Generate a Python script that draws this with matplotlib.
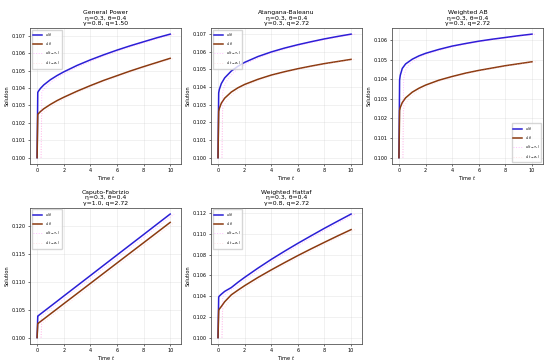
import numpy as np
import matplotlib
matplotlib.use("Agg")
import matplotlib.pyplot as plt

# time samples
t = [0, 0.05, 0.1, 0.25, 0.5, 1, 1.5, 2, 3, 4, 5, 6, 7, 8, 9, 10]

titles = ["General Power", "Atangana-Baleanu", "Weighted AB", "Caputo-Fabrizio", "Weighted Hattaf"]
gammas = [0.8, 0.3, 0.3, 1.0, 0.8]
qs = [1.50, 2.72, 2.72, 2.72, 2.72]
eta = 0.3
theta = 0.4

u_gp = [0.1000, 0.10375, 0.10382, 0.10398, 0.10418, 0.10448, 0.10472, 0.10493, 0.10530, 0.10562, 0.10591, 0.10618, 0.10643, 0.10666, 0.10689, 0.10710]
v_gp = [0.1000, 0.10248, 0.10253, 0.10265, 0.10281, 0.10306, 0.10328, 0.10347, 0.10382, 0.10414, 0.10444, 0.10471, 0.10498, 0.10523, 0.10547, 0.10571]

u_ab = [0.1000, 0.10367, 0.10387, 0.10420, 0.10452, 0.10491, 0.10518, 0.10540, 0.10573, 0.10599, 0.10621, 0.10640, 0.10657, 0.10673, 0.10687, 0.10700]
v_ab = [0.1000, 0.10262, 0.10279, 0.10309, 0.10337, 0.10372, 0.10396, 0.10415, 0.10444, 0.10468, 0.10487, 0.10504, 0.10519, 0.10533, 0.10545, 0.10557]

u_wab = [0.1000, 0.10396, 0.10420, 0.10455, 0.10478, 0.10502, 0.10519, 0.10532, 0.10552, 0.10569, 0.10582, 0.10594, 0.10604, 0.10613, 0.10622, 0.10630]
v_wab = [0.1000, 0.10241, 0.10256, 0.10281, 0.10305, 0.10334, 0.10354, 0.10370, 0.10395, 0.10414, 0.10431, 0.10445, 0.10457, 0.10469, 0.10479, 0.10489]

u_cf = [0.1000, 0.10386, 0.10395, 0.10423, 0.10469, 0.10561, 0.10653, 0.10746, 0.10930, 0.11114, 0.11299, 0.11483, 0.11667, 0.11851, 0.12036, 0.12220]
v_cf = [0.1000, 0.10251, 0.10260, 0.10288, 0.10333, 0.10425, 0.10516, 0.10608, 0.10790, 0.10973, 0.11156, 0.11339, 0.11522, 0.11704, 0.11887, 0.12070]

u_wh = [0.1000, 0.10390, 0.10400, 0.10418, 0.10445, 0.10482, 0.10533, 0.10580, 0.10669, 0.10753, 0.10832, 0.10908, 0.10981, 0.11053, 0.11122, 0.11190]
v_wh = [0.1000, 0.10262, 0.10275, 0.10300, 0.10345, 0.10412, 0.10457, 0.10500, 0.10579, 0.10652, 0.10722, 0.10790, 0.10855, 0.10918, 0.10980, 0.11040]

us = [u_gp, u_ab, u_wab, u_cf, u_wh]
vs = [v_gp, v_ab, v_wab, v_cf, v_wh]
tau1 = 0.3
sigma1 = 0.3

fig, axes = plt.subplots(2, 3, figsize=(5.5, 3.63), dpi=100)
fig.subplots_adjust(left=0.055, right=0.987, top=0.923, bottom=0.053, wspace=0.2, hspace=0.324)

tt = np.array(t)
for i, ax in enumerate(axes.flat[:5]):
    ax.plot(t, us[i], color="#2a1fd6", lw=1.1, label=r"$u(t)$")
    ax.plot(t, vs[i], color="#8b3a10", lw=1.1, label=r"$v(t)$")
    ax.plot(tt + tau1, us[i], color="magenta", ls=":", lw=0.7, alpha=0.25, label=r"$u(t-\tau_1)$")
    ax.plot(tt + sigma1, vs[i], color="lightpink", ls=":", lw=0.7, alpha=0.4, label=r"$v(t-\sigma_1)$")
    ax.set_title(f"{titles[i]}\nη={eta}, θ={theta}\nγ={gammas[i]}, q={qs[i]:.2f}", fontsize=4.4, pad=2, linespacing=1.15)
    ax.set_xlabel(r"Time $t$", fontsize=3.6, labelpad=1)
    ax.set_ylabel("Solution", fontsize=3.6, labelpad=1.5)
    ax.tick_params(labelsize=3.5, length=1.5, width=0.4, pad=1.5)
    ax.grid(True, alpha=0.3, lw=0.4)
    for s in ax.spines.values():
        s.set_linewidth(0.6)
        s.set_color("#555555")
    loc = "lower right" if i == 2 else "upper left"
    ax.legend(loc=loc, fontsize=2.3, handlelength=2.8, framealpha=0.8, borderpad=0.5, labelspacing=0.7)

axes.flat[5].axis("off")

fig.savefig("out.png", dpi=100)
